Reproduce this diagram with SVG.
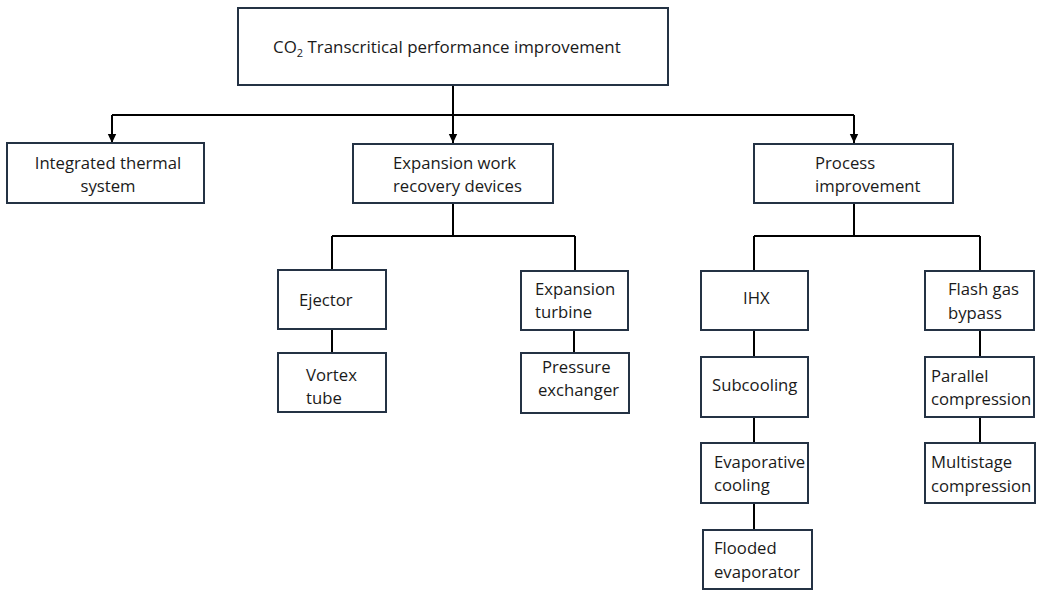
<svg xmlns="http://www.w3.org/2000/svg" width="1038" height="590" viewBox="0 0 1038 590">
<style>
.box{fill:#ffffff;stroke:#243244;stroke-width:2}
.t{font-family:"Open Sans","Noto Sans",sans-serif;font-size:16.7px;fill:#1a1a1a}
.c{fill:none;stroke:#000000;stroke-width:2}
</style>
<defs>
<marker id="arr" markerWidth="10" markerHeight="10" refX="9" refY="5" orient="auto" markerUnits="userSpaceOnUse">
<path d="M0,0.8 L9,5 L0,9.2 Z" fill="#000"/>
</marker>
</defs>
<rect width="1038" height="590" fill="#ffffff"/>
<g id="connectors">
<path class="c" d="M453,85 V115"/>
<path class="c" d="M112,115 H854"/>
<path class="c" d="M112,115 V143" marker-end="url(#arr)"/>
<path class="c" d="M453,115 V143" marker-end="url(#arr)"/>
<path class="c" d="M854,115 V143" marker-end="url(#arr)"/>
<path class="c" d="M453,203 V236 M332,236 H575 M332,236 V270 M575,236 V271"/>
<path class="c" d="M332,329 V353"/>
<path class="c" d="M574,330 V353"/>
<path class="c" d="M854,203 V236 M754,236 H980 M754,236 V271 M980,236 V271"/>
<path class="c" d="M754,330 V357 M754,417 V443 M754,503 V530"/>
<path class="c" d="M980,330 V357 M980,417 V443"/>
</g>
<g id="root">
<rect class="box" x="238" y="8" width="430" height="77"/>
<text class="t" x="273" y="53" style="font-size:16.9px">CO<tspan font-size="11" dy="4">2</tspan><tspan dy="-4"> Transcritical performance improvement</tspan></text>
</g>
<g id="integrated">
<rect class="box" x="7" y="143" width="197" height="60"/>
<text class="t" x="108" y="169" text-anchor="middle">Integrated thermal</text>
<text class="t" x="108" y="192" text-anchor="middle">system</text>
</g>
<g id="expansion-work">
<rect class="box" x="353" y="144" width="200" height="59"/>
<text class="t" x="393" y="169">Expansion work</text>
<text class="t" x="393" y="192">recovery devices</text>
</g>
<g id="process">
<rect class="box" x="754" y="144" width="199" height="59"/>
<text class="t" x="815" y="169">Process</text>
<text class="t" x="815" y="192">improvement</text>
</g>
<g id="ejector">
<rect class="box" x="278" y="270" width="108" height="59"/>
<text class="t" x="299" y="306">Ejector</text>
</g>
<g id="vortex">
<rect class="box" x="278" y="353" width="108" height="59"/>
<text class="t" x="306" y="381">Vortex</text>
<text class="t" x="306" y="404">tube</text>
</g>
<g id="expansion-turbine">
<rect class="box" x="521" y="271" width="107" height="59"/>
<text class="t" x="535" y="295">Expansion</text>
<text class="t" x="535" y="318">turbine</text>
</g>
<g id="pressure">
<rect class="box" x="521" y="353" width="108" height="60"/>
<text class="t" x="542" y="373">Pressure</text>
<text class="t" x="538" y="396">exchanger</text>
</g>
<g id="ihx">
<rect class="box" x="701" y="271" width="107" height="59"/>
<text class="t" x="743" y="304">IHX</text>
</g>
<g id="subcooling">
<rect class="box" x="701" y="357" width="107" height="60"/>
<text class="t" x="712" y="391">Subcooling</text>
</g>
<g id="evaporative">
<rect class="box" x="701" y="443" width="107" height="60"/>
<text class="t" x="714" y="468">Evaporative</text>
<text class="t" x="714" y="491">cooling</text>
</g>
<g id="flooded">
<rect class="box" x="703" y="530" width="109" height="59"/>
<text class="t" x="714" y="554">Flooded</text>
<text class="t" x="714" y="578">evaporator</text>
</g>
<g id="flash">
<rect class="box" x="925" y="271" width="109" height="59"/>
<text class="t" x="948" y="295">Flash gas</text>
<text class="t" x="948" y="319">bypass</text>
</g>
<g id="parallel">
<rect class="box" x="925" y="357" width="109" height="60"/>
<text class="t" x="931" y="382">Parallel</text>
<text class="t" x="931" y="405">compression</text>
</g>
<g id="multistage">
<rect class="box" x="925" y="443" width="110" height="60"/>
<text class="t" x="931" y="468">Multistage</text>
<text class="t" x="931" y="492">compression</text>
</g>
</svg>
